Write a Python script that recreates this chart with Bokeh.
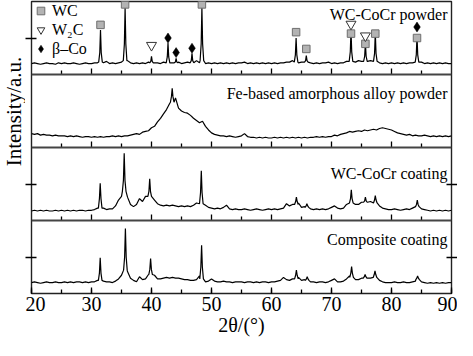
import numpy as np
from bokeh.plotting import figure
from bokeh.models import (Range1d, LinearAxis, SingleIntervalTicker, FixedTicker,
                          Label, Legend, LegendItem, Span)
from bokeh.layouts import row
from bokeh.embed import file_html
from bokeh.resources import INLINE

# ---------------- data ----------------
# measurement grid, 2theta in degrees
two_theta = np.arange(20.0, 90.001, 0.5)

# Panel 1: WC-CoCr powder (intensity in % of its panel height)
p1_base = [15, 16, 15, 14, 15, 16, 15, 15, 14, 16,
           15, 16, 15, 15, 16, 15, 14, 15, 16, 15,
           15, 16, 16, 16, 16, 18, 15, 16, 15, 16,
           17, 17, 19, 16, 15, 16, 15, 16, 15, 17,
           17, 16, 16, 15, 17, 17, 18, 16, 16, 17,
           15, 16, 17, 18, 18, 19, 16, 16, 15, 16,
           15, 16, 15, 16, 15, 16, 15, 16, 15, 16,
           16, 17, 15, 16, 15, 16, 15, 16, 15, 16,
           15, 16, 15, 16, 16, 17, 17, 19, 18, 16,
           17, 18, 18, 16, 15, 16, 15, 16, 16, 17,
           15, 16, 15, 16, 16, 18, 17, 18, 17, 19,
           18, 19, 18, 19, 18, 17, 16, 15, 16, 15,
           16, 15, 16, 15, 16, 15, 16, 16, 17, 17,
           17, 15, 16, 15, 16, 15, 16, 15, 16, 15,
           15]
p1_peak_pos = [31.5, 35.6, 40.0, 42.75, 44.1, 46.75, 48.4, 64.1, 65.8, 73.25, 75.65, 77.3, 84.25]
p1_peak_top = [61, 92, 25, 43, 22, 29, 92, 50, 26, 61, 43, 58, 53]
p1_peak_mid = [30, 42, 18, 24, 17, 19, 42, 27, 19, 31, 25, 29, 27]
p1_peak_foot = [17, 19, 16, 16, 16, 16, 19, 17, 17, 18, 18, 18, 17]

# Panel 2: Fe-based amorphous alloy powder
p2_base = [19, 18, 19, 17, 18, 17, 17, 16, 17, 16,
           16, 16, 15, 16, 15, 16, 15, 14, 15, 15,
           14, 15, 14, 15, 14, 15, 15, 16, 15, 16,
           15, 16, 16, 17, 18, 19, 18, 21, 22, 23,
           27, 29, 35, 40, 46, 52, 60, 75, 68, 54,
           50, 48, 47, 44, 40, 37, 34, 36, 29, 24,
           20, 18, 17, 16, 16, 15, 16, 15, 14, 15,
           16, 19, 15, 14, 14, 13, 14, 13, 14, 13,
           13, 14, 13, 14, 13, 14, 13, 14, 13, 14,
           13, 14, 13, 14, 14, 15, 14, 15, 14, 15,
           15, 17, 16, 18, 19, 20, 22, 21, 22, 23,
           22, 24, 23, 24, 25, 24, 26, 27, 26, 25,
           24, 22, 20, 19, 18, 17, 18, 16, 17, 16,
           16, 17, 16, 15, 16, 15, 16, 15, 16, 15,
           16]
p2_peak_pos = [43.45]
p2_peak_top = [81]
p2_peak_mid = [70]
p2_peak_foot = [62]

# Panel 3: WC-CoCr coating
p3_base = [13, 14, 13, 14, 13, 14, 13, 13, 14, 13,
           14, 13, 14, 13, 14, 13, 14, 14, 13, 14,
           14, 15, 17, 17, 17, 15, 16, 16, 20, 28,
           33, 60, 32, 22, 19, 22, 30, 26, 33, 40,
           40, 28, 23, 21, 20, 21, 20, 21, 20, 19,
           20, 19, 20, 19, 21, 24, 35, 35, 21, 18,
           17, 16, 17, 16, 18, 21, 16, 15, 16, 15,
           15, 16, 15, 14, 15, 16, 15, 14, 15, 16,
           15, 16, 15, 16, 17, 23, 20, 22, 31, 24,
           18, 19, 20, 16, 15, 16, 15, 16, 15, 16,
           18, 20, 17, 16, 17, 22, 30, 30, 22, 22,
           25, 28, 25, 26, 28, 28, 20, 17, 16, 15,
           15, 16, 15, 14, 15, 16, 15, 17, 20, 20,
           16, 15, 14, 13, 14, 13, 14, 13, 14, 13,
           14]
p3_peak_pos = [31.45, 35.45, 39.7, 48.3, 64.15, 65.9, 73.3, 75.65, 77.3, 84.3]
p3_peak_top = [51, 92, 57, 68, 32, 23, 42, 32, 34, 28]
p3_peak_mid = [30, 55, 40, 38, 26, 20, 30, 27, 28, 22]
p3_peak_foot = [17, 40, 33, 23, 22, 18, 24, 25, 24, 19]

# Panel 4: Composite coating
p4_base = [15, 16, 15, 14, 15, 16, 15, 15, 16, 15,
           15, 16, 15, 16, 15, 16, 16, 15, 16, 15,
           16, 16, 18, 30, 17, 16, 16, 15, 17, 20,
           25, 50, 30, 21, 18, 16, 23, 19, 20, 26,
           30, 25, 20, 20, 21, 22, 21, 22, 21, 21,
           20, 19, 19, 18, 18, 19, 24, 30, 16, 17,
           20, 17, 16, 16, 17, 16, 16, 15, 16, 16,
           16, 15, 16, 16, 15, 16, 15, 16, 16, 15,
           16, 16, 17, 18, 22, 19, 18, 20, 28, 22,
           18, 19, 20, 16, 16, 15, 16, 16, 15, 16,
           18, 20, 16, 16, 17, 20, 24, 28, 19, 19,
           21, 23, 21, 21, 24, 26, 18, 16, 15, 15,
           15, 16, 15, 15, 16, 15, 15, 16, 17, 19,
           16, 15, 14, 15, 14, 15, 14, 15, 14, 15,
           15]
p4_peak_pos = [31.45, 35.65, 39.85, 48.35, 64.15, 65.95, 73.35, 75.6, 77.25, 84.35]
p4_peak_top = [49, 89, 48, 66, 32, 23, 37, 26, 31, 24]
p4_peak_mid = [28, 50, 33, 36, 25, 20, 28, 23, 26, 21]
p4_peak_foot = [18, 32, 26, 20, 20, 18, 22, 21, 22, 19]

# Phase markers on the powder pattern (same % scale as panel 1)
wc_x = [31.5, 35.6, 48.4, 64.1, 65.8, 73.25, 75.65, 77.3, 84.25]
wc_y = [68, 96, 96, 58, 35, 56, 42, 56, 50]
w2c_x = [40.0, 73.25, 75.65]
w2c_y = [40, 69, 53]
co_x = [42.75, 44.1, 46.75, 84.25]
co_y = [50, 30, 36, 65]

panel_names = ["WC-CoCr powder", "Fe-based amorphous alloy powder",
               "WC-CoCr coating", "Composite coating"]
legend_names = ["WC", "W\u2082C", "\u03b2\u2013Co"]
major_ticks = [30, 40, 50, 60, 70, 80]
minor_ticks = [25, 35, 45, 55, 65, 75, 85]
x_label = "2\u03b8/(\u00b0)"
y_label = "Intensity/a.u."

# ---------------- drawing ----------------
FONT = "Liberation Serif"
FRAME_H = 292.0          # four panels of 73 px
PANEL_PX = FRAME_H / 4


def trace(base, pos, top, mid, foot, hm, hf):
    xs, ys = [], []
    for x, y in zip(two_theta, base):
        if all(abs(x - c) >= hf for c in pos):
            xs.append(float(x))
            ys.append(y)
    for c, t, m, f in zip(pos, top, mid, foot):
        xs += [c - hf, c - hm, c, c + hm, c + hf]
        ys += [f, m, t, m, f]
    order = np.argsort(xs, kind="stable")
    return [xs[i] for i in order], [ys[i] for i in order]


p = figure(width=432, height=340, x_range=Range1d(20, 90), y_range=Range1d(0, 4),
           output_backend="svg", toolbar_location=None,
           x_axis_location=None, y_axis_location=None,
           min_border_left=6, min_border_right=6, min_border_top=1, min_border_bottom=47)
p.grid.visible = False
p.outline_line_color = "#222222"
p.outline_line_width = 1.4
p.background_fill_color = "white"
p.border_fill_color = "white"

# bottom axis
xa = LinearAxis(ticker=SingleIntervalTicker(interval=10, num_minor_ticks=2))
xa.axis_line_color = None
xa.major_tick_in = 6
xa.major_tick_out = 0
xa.minor_tick_in = 4
xa.minor_tick_out = 0
xa.major_tick_line_width = 1.3
xa.minor_tick_line_width = 1.3
xa.major_tick_line_color = "black"
xa.minor_tick_line_color = "black"
xa.major_label_text_font = FONT
xa.major_label_text_font_size = "20px"
xa.major_label_text_color = "black"
xa.major_label_standoff = 3
xa.axis_label = x_label
xa.axis_label_text_font = FONT
xa.axis_label_text_font_size = "20px"
xa.axis_label_text_font_style = "normal"
xa.axis_label_text_color = "black"
xa.axis_label_standoff = 0
p.add_layout(xa, "below")

# break marks on the side axes (left: panels 1, 3, 4; right: panels 3, 4)
for side, ticks in (("left", [0.5, 1.5, 3.5]), ("right", [0.5, 1.5])):
    ya = LinearAxis(ticker=FixedTicker(ticks=ticks, minor_ticks=[]))
    ya.axis_line_color = None
    ya.major_tick_in = 5
    ya.major_tick_out = 6
    ya.major_tick_line_width = 1.6
    ya.major_tick_line_color = "black"
    ya.minor_tick_line_color = None
    ya.major_label_text_font_size = "0px"
    ya.major_label_text_color = None
    ya.major_label_standoff = 0
    p.add_layout(ya, side)

# panel separators
for k in (1, 2, 3):
    p.add_layout(Span(location=k, dimension="width", line_color="#444444", line_width=1.8))

# inner tick marks at the bottom of panels 1-3
tick_len_major = 6 / PANEL_PX
tick_len_minor = 4 / PANEL_PX
sx0, sy0, sy1 = [], [], []
for k in (1, 2, 3):
    for t in major_ticks:
        sx0.append(t); sy0.append(k); sy1.append(k + tick_len_major)
    for t in minor_ticks:
        sx0.append(t); sy0.append(k); sy1.append(k + tick_len_minor)
p.segment(x0=sx0, y0=sy0, x1=sx0, y1=sy1, line_color="black", line_width=1.3)

# diffraction patterns, stacked top to bottom
specs = [
    (3, p1_base, p1_peak_pos, p1_peak_top, p1_peak_mid, p1_peak_foot, 0.12, 0.3),
    (2, p2_base, p2_peak_pos, p2_peak_top, p2_peak_mid, p2_peak_foot, 0.12, 0.3),
    (1, p3_base, p3_peak_pos, p3_peak_top, p3_peak_mid, p3_peak_foot, 0.13, 0.3),
    (0, p4_base, p4_peak_pos, p4_peak_top, p4_peak_mid, p4_peak_foot, 0.13, 0.3),
]
for off, b, pos, top, mid, foot, hm, hf in specs:
    xs, ys = trace(b, pos, top, mid, foot, hm, hf)
    p.line(xs, [off + v / 100 for v in ys], line_color="black", line_width=1.2)

# phase markers
r_wc = p.scatter(wc_x, [3 + v / 100 for v in wc_y], marker="square", size=7.5,
                 fill_color="#b3b3b3", line_color="#6e6e6e", line_width=1)
r_w2c = p.scatter(w2c_x, [3 + v / 100 for v in w2c_y], marker="inverted_triangle", size=10,
                  fill_color="white", line_color="#333333", line_width=1)
r_co = p.scatter(co_x, [3 + v / 100 for v in co_y], marker="diamond", size=10,
                 fill_color="black", line_color="black", line_width=0.5)

legend = Legend(items=[LegendItem(label=legend_names[0], renderers=[r_wc]),
                       LegendItem(label=legend_names[1], renderers=[r_w2c]),
                       LegendItem(label=legend_names[2], renderers=[r_co])],
                location="top_left", margin=0, padding=0, spacing=0,
                glyph_width=19, glyph_height=19, label_height=19, label_standoff=2,
                border_line_color=None, background_fill_alpha=0)
legend.label_text_font = FONT
legend.label_text_font_size = "16px"
legend.label_text_color = "black"
p.add_layout(legend)

# panel names (screen px from frame bottom-left)
for name, y in zip(panel_names, [279, 200.5, 120, 54]):
    p.add_layout(Label(x=416, y=y, x_units="screen", y_units="screen", text=name,
                       text_align="right", text_baseline="alphabetic",
                       text_font=FONT, text_font_size="16px", text_color="black"))

# y title in its own narrow column
fy = figure(width=25, height=340, x_range=Range1d(0, 1), y_range=Range1d(0, 1),
            output_backend="svg", toolbar_location=None,
            x_axis_location=None, y_axis_location=None,
            min_border_left=0, min_border_right=0, min_border_top=0, min_border_bottom=0)
fy.grid.visible = False
fy.outline_line_color = None
fy.background_fill_color = "white"
fy.border_fill_color = "white"
fy.add_layout(Label(x=13.5, y=182, x_units="screen", y_units="screen", text=y_label,
                    angle=np.pi / 2, text_align="center", text_baseline="middle",
                    text_font=FONT, text_font_size="21px", text_color="black"))

layout = row(fy, p)

with open("out.html", "w") as fh:
    fh.write(file_html(layout, INLINE))
